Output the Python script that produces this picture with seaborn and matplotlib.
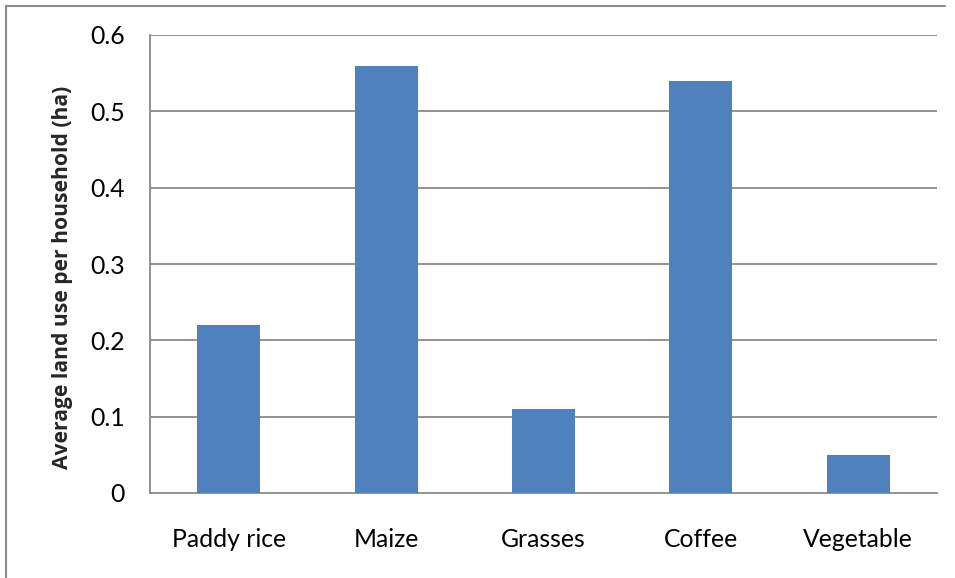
import matplotlib
matplotlib.use("Agg")
import matplotlib.pyplot as plt
from matplotlib.lines import Line2D
import seaborn as sns
import pandas as pd

crops = ["Paddy rice", "Maize", "Grasses", "Coffee", "Vegetable"]
land_use_ha = [0.22, 0.56, 0.11, 0.54, 0.05]
y_ticks = [0, 0.1, 0.2, 0.3, 0.4, 0.5, 0.6]
y_tick_labels = ["0", "0.1", "0.2", "0.3", "0.4", "0.5", "0.6"]

sns.set_theme(style="white")
plt.rcParams["font.family"] = ["Lato", "DejaVu Sans"]

df = pd.DataFrame({"crop": crops, "area": land_use_ha})

fig = plt.figure(figsize=(9.55, 5.78), dpi=100)
ax = fig.add_axes([150 / 955, 1 - 493 / 578, (937 - 150) / 955, (493 - 35) / 578])

grid_color = "#898989"
sns.barplot(data=df, x="crop", y="area", color="#4F81BD", saturation=1,
            width=0.4, ax=ax, zorder=3, edgecolor="#4F81BD", linewidth=0)

ax.set_ylim(0, 0.6)
ax.set_xlim(-0.5, len(crops) - 0.5)
ax.set_yticks(y_ticks)
ax.set_yticklabels(y_tick_labels)
for y in y_ticks[1:]:
    ax.axhline(y, color=grid_color, linewidth=1.3, zorder=1)

for side in ["top", "right"]:
    ax.spines[side].set_visible(False)
for side in ["left", "bottom"]:
    ax.spines[side].set_color(grid_color)
    ax.spines[side].set_linewidth(1.3)

ax.tick_params(axis="both", length=0, labelsize=17.8, colors="black")
ax.tick_params(axis="y", pad=18)
ax.tick_params(axis="x", pad=25)
ax.set_xlabel("")
ax.set_ylabel("Average land use per household (ha)", fontsize=15.1,
              fontweight="bold", family=["Open Sans", "DejaVu Sans"])
ax.yaxis.set_label_coords(-0.098, 0.47)

# outer chart frame (left and top edges)
fig.add_artist(Line2D([5.5 / 955, 5.5 / 955], [0, 1 - 5.5 / 578],
                      transform=fig.transFigure, color="#8c8c8c", linewidth=1.5))
fig.add_artist(Line2D([5.5 / 955, 945 / 955], [1 - 5.5 / 578, 1 - 5.5 / 578],
                      transform=fig.transFigure, color="#8c8c8c", linewidth=1.5))

fig.savefig("out.png", dpi=100)
